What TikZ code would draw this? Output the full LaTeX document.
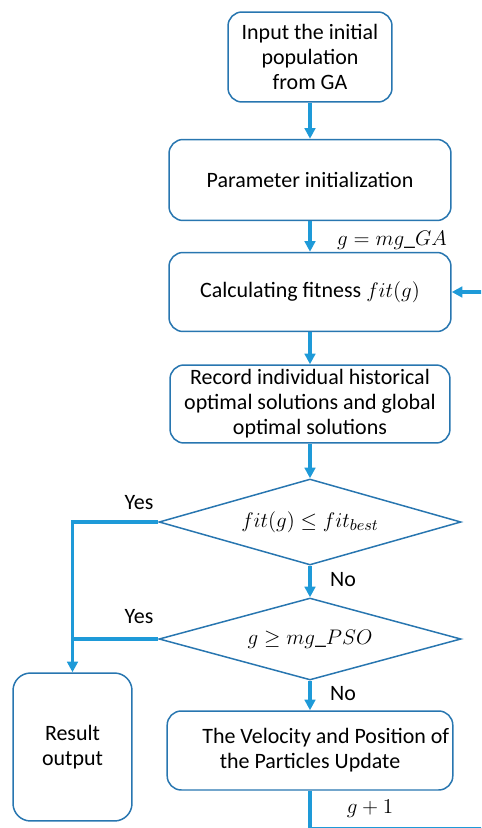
\documentclass[tikz,border=0pt]{standalone}
\usepackage{fontspec}
\setmainfont{Carlito}
\usetikzlibrary{arrows.meta,shapes.geometric}
\definecolor{boxblue}{RGB}{40,118,176}
\definecolor{flowblue}{RGB}{30,154,216}
\tikzset{
  stepbox/.style={draw=boxblue, line width=0.85pt, rounded corners=8pt, align=center,
    inner sep=2pt, font=\fontsize{12.5}{14.2}\selectfont},
  decide/.style={draw=boxblue, line width=0.85pt, diamond, aspect=3.5, inner sep=0pt,
    font=\fontsize{12.5}{14.2}\selectfont},
  flow/.style={draw=flowblue, line width=1.8pt, -{Triangle[width=6pt,length=6pt]}},
  flowline/.style={draw=flowblue, line width=1.8pt},
  lbl/.style={font=\fontsize{12.5}{14.2}\selectfont}
}
\begin{document}
\begin{tikzpicture}[x=0.02cm, y=-0.02cm]
			%%%%% START %%%%%
			\useasboundingbox (0,0) rectangle (481,828);
			\clip (0,0) rectangle (481,828);
			
			\node[stepbox, minimum width=3.28cm, minimum height=1.8cm] (input) at (310,57) {Input the initial\\population\\from GA};
			\node[stepbox, minimum width=5.64cm, minimum height=1.62cm] (param) at (310,180) {Parameter initialization};
			\node[stepbox, minimum width=5.64cm, minimum height=1.58cm] (fitness) at (310,292) {Calculating fitness $fit(g)$};
			\node[stepbox, minimum width=5.6cm, minimum height=1.56cm] (record) at (310,404) {Record individual historical\\optimal solutions and global\\optimal solutions};
			
			\node[decide, minimum width=6.04cm, minimum height=1.72cm] (cond1) at (310,522) {$fit(g) \leq fit_{best}$};
			\node[decide, minimum width=6.04cm, minimum height=1.64cm] (cond2) at (310,639) {$g \geq mg\_PSO$};
			
			\node[stepbox, rounded corners=10pt, minimum width=2.38cm, minimum height=2.96cm] (result) at (72.5,747) {Result\\output};
			\node[stepbox, minimum width=5.62cm, minimum height=1.58cm] (update) at (310,750.5) {\hspace*{18pt}The Velocity and Position of\\the Particles Update};
			
			\draw[flow] (input) -- (param);
			\draw[flow] (param) -- (fitness);
			\draw[flow] (fitness) -- (record);
			\draw[flow] (record) -- (cond1);
			\draw[flow] (cond1) -- (cond2);
			\draw[flow] (cond2) -- (update);
			
			\draw[flow] (cond1.west) -- (cond1.west -| result.north) -- (result.north);
			\draw[flowline] (cond2.west) -- (cond2.west -| result.north);
			
			% loop back from the update box
			\coordinate (loopc) at (530,829);
			\draw[flow] (update.south) |- (loopc) |- (fitness.east);
			
			\node[lbl] (gset) at (392,240) {$g = mg\_GA$};
			\node[lbl] (yes1) at (139,503) {Yes};
			\node[lbl] (yes2) at (139,617) {Yes};
			\node[lbl] (no1) at (343,580) {No};
			\node[lbl] (no2) at (343,694) {No};
			\node[lbl] (ginc) at (370,809) {$g + 1$};
			%%%%% END %%%%%
\end{tikzpicture}
\end{document}
